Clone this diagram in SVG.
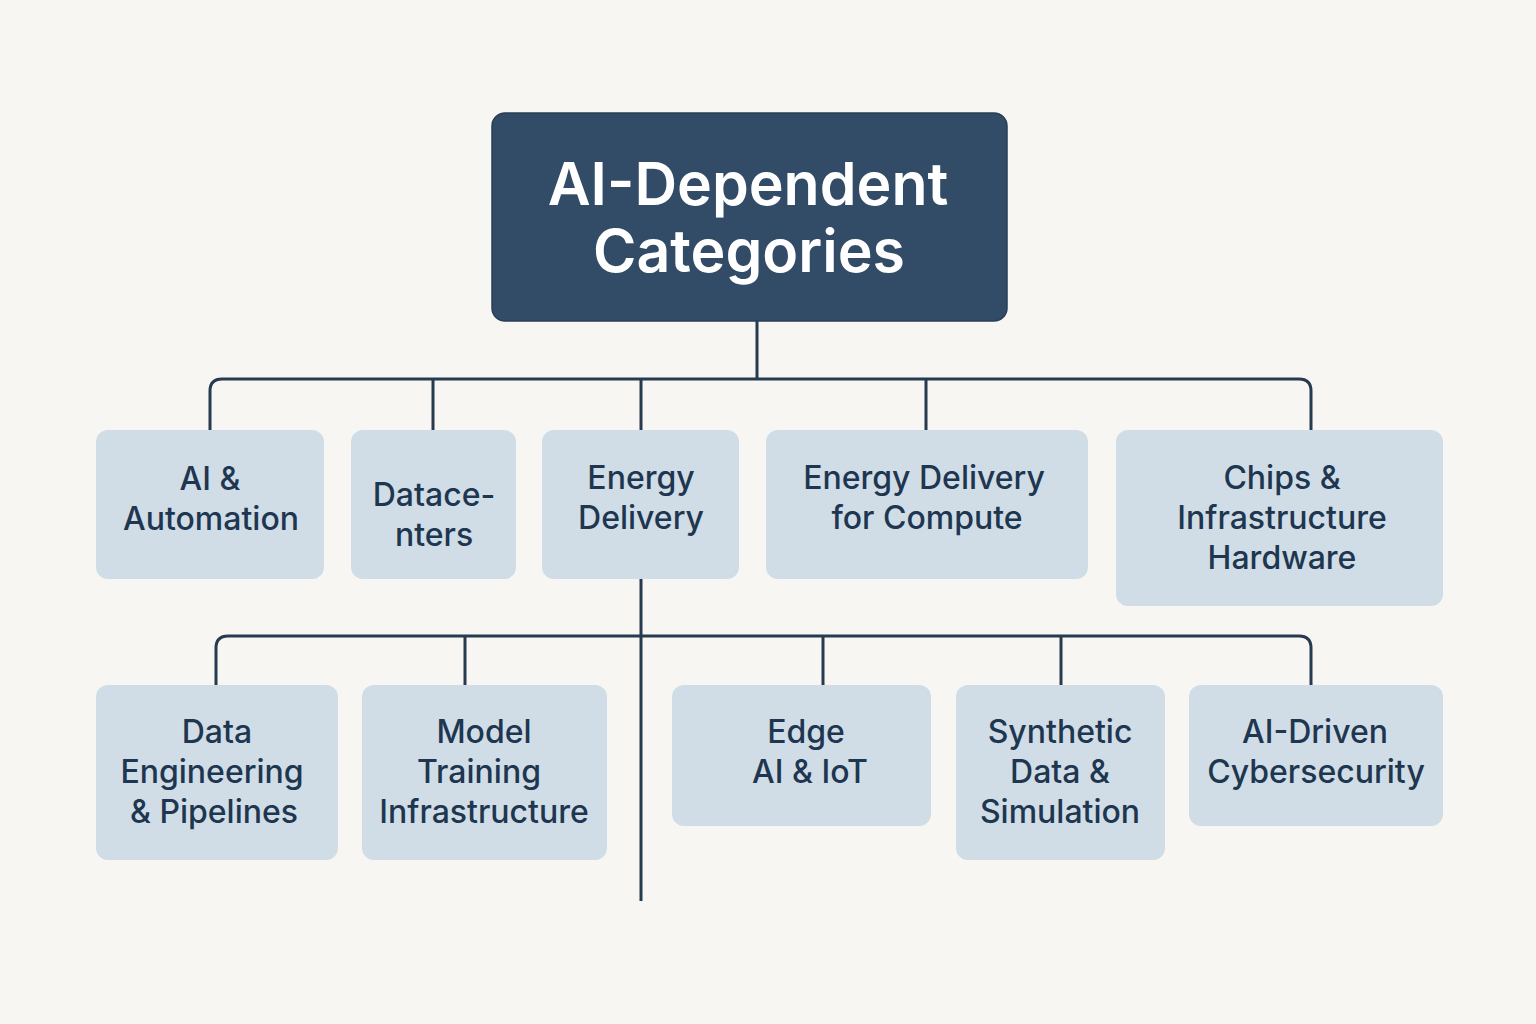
<svg xmlns="http://www.w3.org/2000/svg" width="1536" height="1024" viewBox="0 0 1536 1024">
  <style>
    .bg { fill: #f7f6f2; }
    .root { fill: #324b66; stroke: #2a3f57; stroke-width: 1.5; }
    .node { fill: #d0dde6; }
    .title { font-family: Inter, "Liberation Sans", sans-serif; font-size: 59px; font-weight: 600; fill: #ffffff; text-anchor: middle; }
    .label { font-family: Inter, "Liberation Sans", sans-serif; font-size: 32px; font-weight: 500; fill: #1e3650; text-anchor: middle; }
    .wire { fill: none; stroke: #263a50; stroke-width: 3; stroke-linecap: butt; }
  </style>
  <rect class="bg" x="0" y="0" width="1536" height="1024"/>

  <g id="connectors">
    <!-- root to first tier -->
    <path class="wire" d="M757 321 V379"/>
    <path class="wire" d="M210 430 V391 Q210 379 222 379 H1299 Q1311 379 1311 391 V430"/>
    <path class="wire" d="M433 379 V430"/>
    <path class="wire" d="M641 379 V430"/>
    <path class="wire" d="M926 379 V430"/>
    <!-- Energy Delivery to second tier -->
    <path class="wire" d="M641 579 V901"/>
    <path class="wire" d="M216 685 V648 Q216 636 228 636 H1299 Q1311 636 1311 648 V685"/>
    <path class="wire" d="M465 636 V685"/>
    <path class="wire" d="M823 636 V685"/>
    <path class="wire" d="M1061 636 V685"/>
  </g>

  <g id="root">
    <rect class="root" x="492" y="113" width="515" height="208" rx="13"/>
    <text class="title" x="748" y="205">AI-Dependent</text>
    <text class="title" x="749" y="272">Categories</text>
  </g>

  <g id="ai-automation">
    <rect class="node" x="96" y="430" width="228" height="149" rx="12"/>
    <text class="label" x="210" y="490">AI &amp;</text>
    <text class="label" x="211" y="530">Automation</text>
  </g>

  <g id="datacenters">
    <rect class="node" x="351" y="430" width="165" height="149" rx="12"/>
    <text class="label" x="434" y="506">Datace-</text>
    <text class="label" x="434" y="546">nters</text>
  </g>

  <g id="energy-delivery">
    <rect class="node" x="542" y="430" width="197" height="149" rx="12"/>
    <text class="label" x="641" y="489">Energy</text>
    <text class="label" x="641" y="529">Delivery</text>
  </g>

  <g id="energy-compute">
    <rect class="node" x="766" y="430" width="322" height="149" rx="12"/>
    <text class="label" x="924" y="489">Energy Delivery</text>
    <text class="label" x="927" y="529">for Compute</text>
  </g>

  <g id="chips-hardware">
    <rect class="node" x="1116" y="430" width="327" height="176" rx="12"/>
    <text class="label" x="1282" y="489">Chips &amp;</text>
    <text class="label" x="1282" y="529">Infrastructure</text>
    <text class="label" x="1282" y="569">Hardware</text>
  </g>

  <g id="data-engineering">
    <rect class="node" x="96" y="685" width="242" height="175" rx="12"/>
    <text class="label" x="217" y="743">Data</text>
    <text class="label" x="212" y="783">Engineering</text>
    <text class="label" x="214" y="823">&amp; Pipelines</text>
  </g>

  <g id="model-training">
    <rect class="node" x="362" y="685" width="245" height="175" rx="12"/>
    <text class="label" x="484" y="743">Model</text>
    <text class="label" x="479" y="783">Training</text>
    <text class="label" x="484" y="823">Infrastructure</text>
  </g>

  <g id="edge-ai">
    <rect class="node" x="672" y="685" width="259" height="141" rx="12"/>
    <text class="label" x="806" y="743">Edge</text>
    <text class="label" x="810" y="783">AI &amp; IoT</text>
  </g>

  <g id="synthetic-data">
    <rect class="node" x="956" y="685" width="209" height="175" rx="12"/>
    <text class="label" x="1060" y="743">Synthetic</text>
    <text class="label" x="1060" y="783">Data &amp;</text>
    <text class="label" x="1060" y="823">Simulation</text>
  </g>

  <g id="ai-cybersecurity">
    <rect class="node" x="1189" y="685" width="254" height="141" rx="12"/>
    <text class="label" x="1315" y="743">AI-Driven</text>
    <text class="label" x="1316" y="783">Cybersecurity</text>
  </g>
</svg>
